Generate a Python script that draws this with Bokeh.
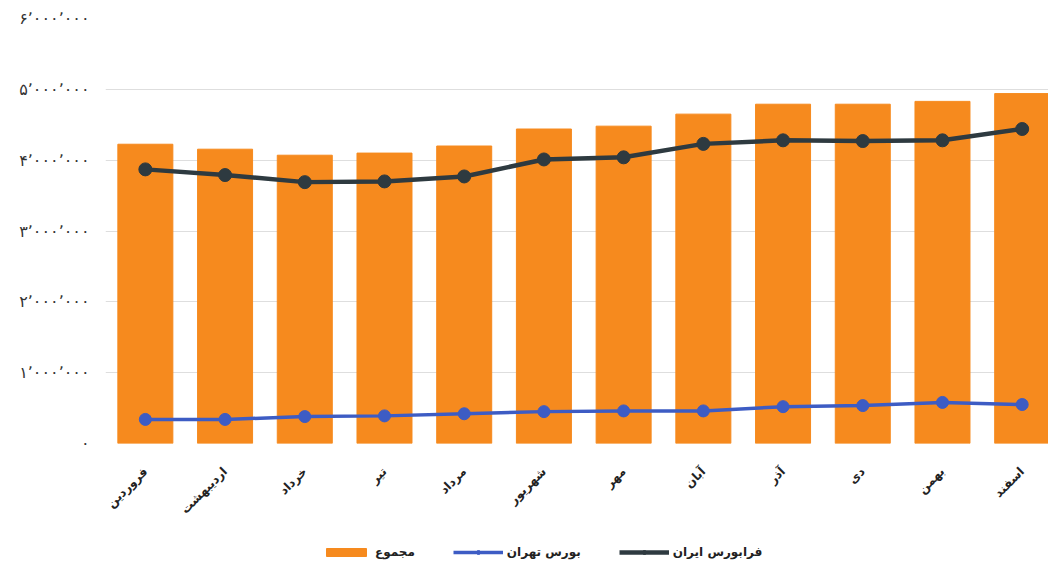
import math
from bokeh.plotting import figure
from bokeh.layouts import column
from bokeh.models import Range1d, FixedTicker, Legend, LegendItem
from bokeh.embed import file_html
from bokeh.resources import INLINE

months = ["فروردین", "اردیبهشت", "خرداد", "تیر", "مرداد", "شهریور",
          "مهر", "آبان", "آذر", "دی", "بهمن", "اسفند"]
total = [4.225e6, 4.155e6, 4.07e6, 4.10e6, 4.20e6, 4.44e6,
         4.48e6, 4.65e6, 4.79e6, 4.79e6, 4.83e6, 4.94e6]
farabourse = [3.87e6, 3.79e6, 3.69e6, 3.70e6, 3.77e6, 4.01e6,
              4.04e6, 4.23e6, 4.28e6, 4.27e6, 4.28e6, 4.44e6]
tehran = [0.34e6, 0.34e6, 0.38e6, 0.39e6, 0.42e6, 0.45e6,
          0.46e6, 0.46e6, 0.52e6, 0.535e6, 0.58e6, 0.55e6]
y_ticks = [0, 1000000, 2000000, 3000000, 4000000, 5000000, 6000000]
y_labels = ["۰", "۱٬۰۰۰٬۰۰۰", "۲٬۰۰۰٬۰۰۰", "۳٬۰۰۰٬۰۰۰",
            "۴٬۰۰۰٬۰۰۰", "۵٬۰۰۰٬۰۰۰", "۶٬۰۰۰٬۰۰۰"]
legend_labels = ["مجموع", "بورس تهران", "فرابورس ایران"]

xs = list(range(len(months)))

FONT = "DejaVu Sans"
ORANGE = "#F68A1E"
BLUE = "#3D5CC4"
DARK = "#2E3A40"


def draw_series(fig):
    b = fig.vbar(x=xs, top=total, width=0.69, color=ORANGE)
    a1 = fig.line(xs, tehran, line_color=BLUE, line_width=3.5)
    a2 = fig.scatter(xs, tehran, size=12, color=BLUE)
    c1 = fig.line(xs, farabourse, line_color=DARK, line_width=4.5)
    c2 = fig.scatter(xs, farabourse, size=13, color=DARK)
    return b, (a1, a2), (c1, c2)


p = figure(width=1048, height=532, output_backend="svg", toolbar_location=None,
           x_range=Range1d(-0.5, 11.33), y_range=Range1d(0, 6000000),
           min_border_left=105, min_border_right=0, min_border_top=18,
           min_border_bottom=89)
p.outline_line_color = None
p.background_fill_color = "white"
p.xgrid.grid_line_color = None
p.ygrid.grid_line_color = "#dedede"
p.ygrid.grid_line_width = 1

draw_series(p)

p.yaxis.ticker = FixedTicker(ticks=y_ticks)
p.yaxis.major_label_overrides = {t: l for t, l in zip(y_ticks, y_labels)}
p.yaxis.axis_line_color = None
p.yaxis.major_tick_line_color = None
p.yaxis.minor_tick_line_color = None
p.yaxis.major_label_text_font = FONT
p.yaxis.major_label_text_font_size = "16px"
p.yaxis.major_label_text_color = "#333333"
p.yaxis.major_label_standoff = 10

p.xaxis.ticker = FixedTicker(ticks=xs)
p.xaxis.major_label_overrides = {i: m for i, m in enumerate(months)}
p.xaxis.axis_line_color = None
p.xaxis.major_tick_line_color = None
p.xaxis.minor_tick_line_color = None
p.xaxis.major_label_orientation = math.pi / 4
p.xaxis.major_label_text_font = FONT
p.xaxis.major_label_text_font_size = "12px"
p.xaxis.major_label_text_font_style = "bold"
p.xaxis.major_label_text_color = "#222222"
p.xaxis.major_label_standoff = 20

# legend strip below the chart; its series sit outside its visible ranges
lg = figure(width=1048, height=30, output_backend="svg", toolbar_location=None,
            min_border=0, x_range=Range1d(-100, -99), y_range=Range1d(-100, -99))
lg.axis.visible = False
lg.grid.visible = False
lg.outline_line_color = None
rb, (rl1, rs1), (rl2, rs2) = draw_series(lg)

legend = Legend(items=[
    LegendItem(label=legend_labels[0], renderers=[rb]),
    LegendItem(label=legend_labels[1], renderers=[rl1, rs1]),
    LegendItem(label=legend_labels[2], renderers=[rl2, rs2]),
], orientation="horizontal", location=(216, 3))
legend.border_line_color = None
legend.background_fill_alpha = 0
legend.glyph_width = 50
legend.glyph_height = 10
legend.label_text_font = FONT
legend.label_text_font_size = "12px"
legend.label_text_font_style = "bold"
legend.label_text_color = "#222222"
legend.spacing = 38
legend.label_standoff = 4
legend.margin = 0
legend.padding = 4
lg.add_layout(legend, "center")

open("out.html", "w").write(file_html(column(p, lg, spacing=0), INLINE))
